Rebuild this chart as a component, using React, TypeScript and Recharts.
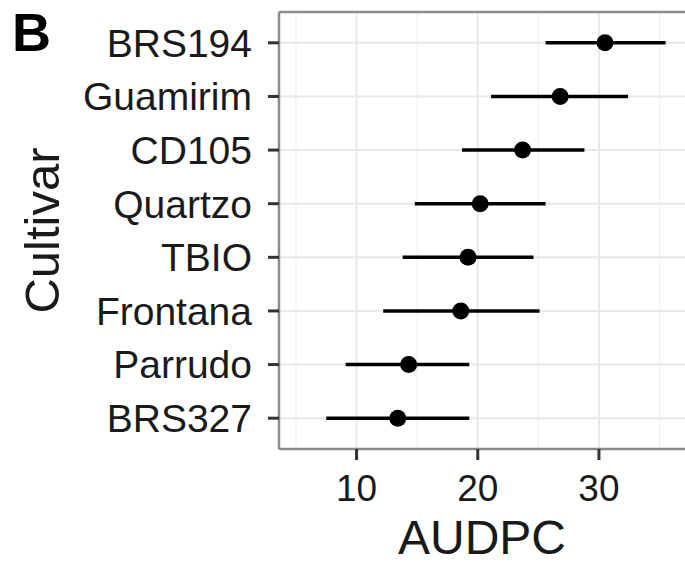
import {
  CartesianGrid,
  ErrorBar,
  Scatter,
  ScatterChart,
  XAxis,
  YAxis,
} from "recharts"

const cultivars = [
  "BRS194",
  "Guamirim",
  "CD105",
  "Quartzo",
  "TBIO",
  "Frontana",
  "Parrudo",
  "BRS327",
]
const audpc = [30.5, 26.8, 23.7, 20.2, 19.2, 18.6, 14.3, 13.4]
const lower = [25.6, 21.1, 18.7, 14.8, 13.8, 12.2, 9.1, 7.5]
const upper = [35.5, 32.4, 28.8, 25.6, 24.6, 25.1, 19.3, 19.3]

const xTicks = [10, 20, 30]
const minorTicks = [5, 15, 25, 35]

const font = "'Liberation Sans', Arial, sans-serif"
const ink = "#1a1a1a"
const border = "#8c8c8c"

const data = cultivars.map((name, i) => ({
  name,
  mean: audpc[i],
  err: [audpc[i] - lower[i], upper[i] - audpc[i]],
}))

export default function App() {
  return (
    <div style={{ position: "absolute", left: 0, top: 0, width: 685, height: 564, background: "#fff" }}>
      <ScatterChart
        width={685}
        height={564}
        margin={{ top: 11, right: 0, bottom: 0, left: 0 }}
      >
        <CartesianGrid
          xAxisId="main"
          horizontal={false}
          verticalValues={minorTicks}
          stroke="#f0f0f0"
          strokeWidth={1.2}
        />
        <CartesianGrid
          xAxisId="main"
          verticalValues={xTicks}
          stroke="#e8e8e8"
          strokeWidth={2}
        />
        <XAxis
          xAxisId="top"
          orientation="top"
          type="number"
          dataKey="mean"
          domain={[3.6, 37.1]}
          allowDataOverflow
          height={1}
          tick={false}
          tickLine={false}
          axisLine={{ stroke: border, strokeWidth: 2.5 }}
        />
        <XAxis
          xAxisId="main"
          type="number"
          dataKey="mean"
          domain={[3.6, 37.1]}
          allowDataOverflow
          ticks={xTicks}
          height={115}
          tickSize={11}
          tickMargin={15}
          tick={{ fontSize: 37, fill: ink, fontFamily: font }}
          tickLine={{ stroke: "#333", strokeWidth: 3 }}
          axisLine={{ stroke: border, strokeWidth: 2.5 }}
          label={{
            content: ({ viewBox }: any) => (
              <text
                x={viewBox.x + viewBox.width / 2}
                y={viewBox.y + 105}
                textAnchor="middle"
                fontSize={48}
                fontFamily={font}
                fill={ink}
              >
                AUDPC
              </text>
            ),
          }}
        />
        <YAxis
          type="category"
          dataKey="name"
          reversed
          width={279}
          padding={{ top: 4, bottom: 4 }}
          tickSize={11}
          tickMargin={16}
          tick={{ fontSize: 39, fill: ink, fontFamily: font }}
          tickLine={{ stroke: "#333", strokeWidth: 3 }}
          axisLine={{ stroke: border, strokeWidth: 2.5 }}
          label={{
            content: ({ viewBox }: any) => {
              const cy = viewBox.y + viewBox.height / 2
              return (
                <text
                  x={42}
                  y={cy}
                  transform={`rotate(-90 42 ${cy})`}
                  textAnchor="middle"
                  dominantBaseline="central"
                  fontSize={49}
                  fontFamily={font}
                  fill={ink}
                >
                  Cultivar
                </text>
              )
            },
          }}
        />
        <Scatter
          xAxisId="main"
          data={data}
          fill="#000"
          isAnimationActive={false}
          shape={(p: any) => <circle cx={p.cx} cy={p.cy} r={8.5} fill="#000" />}
        >
          <ErrorBar
            dataKey="err"
            direction="x"
            width={0}
            stroke="#000"
            strokeWidth={3.5}
            isAnimationActive={false}
          />
        </Scatter>
      </ScatterChart>
      <svg
        width={80}
        height={64}
        style={{ position: "absolute", left: 0, top: 0, pointerEvents: "none" }}
      >
        <text x={12} y={51} fontFamily={font} fontWeight="bold" fontSize={54} fill="#000">
          B
        </text>
      </svg>
    </div>
  )
}
